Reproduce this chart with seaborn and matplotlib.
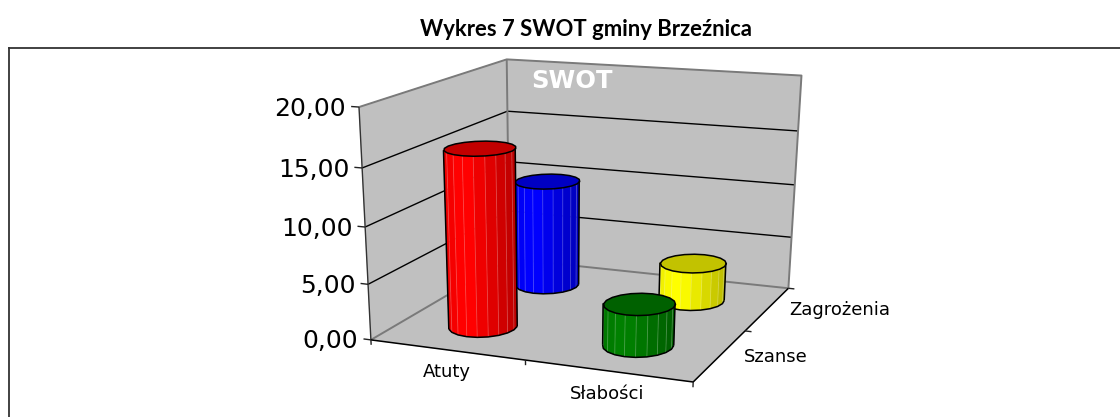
import numpy as np
import matplotlib
matplotlib.use("Agg")
import matplotlib.pyplot as plt
import seaborn as sns
from mpl_toolkits.mplot3d import proj3d
from mpl_toolkits.mplot3d.art3d import Line3DCollection, Poly3DCollection

# Chart values
categories = ["Atuty", "Słabości"]
series_names = ["Szanse", "Zagrożenia"]
szanse_values = [15.85, 3.7]
zagrozenia_values = [10.1, 3.6]
value_ticks = [0, 5, 10, 15, 20]
szanse_colors = ["#ff0000", "#008000"]
zagrozenia_colors = ["#0000ff", "#ffff00"]

W, H = 1120, 417
RX, RY = 0.205, 0.23
WALL = "#c0c0c0"
EDGE = "#7a7a7a"

sns.set_theme(style="white")
plt.rcParams["font.family"] = ["DejaVu Sans"]

fig = plt.figure(figsize=(W / 100, H / 100), dpi=100)
fig.patch.set_facecolor("white")

# Outer frame, only left and top are inside the picture
frame = fig.add_axes([8.5 / W, -0.1, 1.1, 1.1 - 48.5 / H])
frame.set_xticks([])
frame.set_yticks([])
sns.despine(ax=frame, top=False, left=False, right=True, bottom=True)
for side in ["left", "top"]:
    frame.spines[side].set_color("#333333")
    frame.spines[side].set_linewidth(1.3)

fig.text(586 / W, 1 - 30 / H, "Wykres 7 SWOT gminy Brzeźnica", ha="center", va="center",
         family="Lato", fontweight="bold", fontsize=15.9, color="black")

# Square axes wider than the figure height, 3D view is calibrated below
ax = fig.add_axes([0, (H - W) / 2 / H, 1, W / H], projection="3d")
ax.computed_zorder = False
ax.set_axis_off()
ax.patch.set_visible(False)
ax.set_xlim(0, 2)
ax.set_ylim(0, 2)
ax.set_zlim(0, 20)
for axis in (ax.xaxis, ax.yaxis, ax.zaxis):
    axis.set_visible(False)
ax.apply_aspect()

# Box corners on the picture, used to fit the chart's perspective
box_world = np.array([[0, 0, 0], [2, 0, 0], [2, 2, 0], [0, 2, 0],
                      [0, 0, 20], [0, 2, 20], [2, 2, 20]], float)
box_px = np.array([[372, 339], [693, 383], [789, 287], [508, 260],
                   [358, 107], [508, 59], [801, 76]], float)
display = np.column_stack([box_px[:, 0], H - box_px[:, 1]])
view = ax.transData.inverted().transform(display)

rows = []
for (x, y, z), (u, v) in zip(box_world, view):
    rows.append([x, y, z, 1, 0, 0, 0, 0, -u * x, -u * y, -u * z, -u])
    rows.append([0, 0, 0, 0, x, y, z, 1, -v * x, -v * y, -v * z, -v])
P = np.linalg.svd(np.array(rows))[2][-1].reshape(3, 4)
P = P / P[2, 3]
M = np.vstack([P[0], P[1], P[2] - np.array([0, 0, 0, 1.0]), P[2]])
ax.get_proj = lambda: M


def project(x, y, z):
    return proj3d.proj_transform(np.asarray(x, float), np.asarray(y, float), np.asarray(z, float), M)[:2]


def edge_line(xs, ys, zs, color, lw, order=2, alpha=None):
    points = np.column_stack([xs, ys, zs]).astype(float)
    ax.add_collection3d(Line3DCollection([points], colors=color, linewidths=lw, zorder=order, alpha=alpha),
                        autolim=False)


# Walls and floor
walls = [
    [(0, 2, 0), (2, 2, 0), (2, 2, 20), (0, 2, 20)],
    [(0, 0, 0), (0, 2, 0), (0, 2, 20), (0, 0, 20)],
    [(0, 0, 0), (2, 0, 0), (2, 2, 0), (0, 2, 0)],
]
ax.add_collection3d(Poly3DCollection(walls, facecolors=WALL, edgecolors=WALL, linewidths=0.5, zorder=0.5))

for v in value_ticks[1:-1]:
    edge_line([0, 0, 2], [0, 2, 2], [v, v, v], "black", 1.0)
edge_line([0, 0, 2], [0, 2, 2], [0, 0, 0], EDGE, 1.4)
edge_line([0, 0, 2, 2], [0, 2, 2, 2], [20, 20, 20, 0], EDGE, 1.4)
edge_line([0, 0], [2, 2], [0, 20], EDGE, 1.4)

# Axis lines and ticks
edge_line([0, 0], [0, 0], [0, 20], "#333333", 1.0)
edge_line([0, 2, 2], [0, 0, 2], [0, 0, 0], "black", 1.1)
for v in value_ticks:
    edge_line([-0.05, 0], [0, 0], [v, v], "#222222", 1.0)
    ax.text(-0.085, 0, v - 0.25, f"{v:.2f}".replace(".", ","), ha="right", va="center",
            fontsize=18, color="black", zorder=9)
for i in range(len(categories) + 1):
    edge_line([i, i], [0, 0], [0, -0.45], "#222222", 1.0)
for i in range(1, len(series_names) + 1):
    edge_line([2, 2.04], [i, i], [0, 0], "#222222", 1.0)
for i, name in enumerate(categories):
    ax.text(i + 0.5, 0, -2, name, ha="center", va="center", fontsize=13, color="black", zorder=9)
for i, name in enumerate(series_names):
    ax.text(2.14, i + 0.5, 0.1, name, ha="left", va="center", fontsize=13, color="black", zorder=9)

ax.text(0.18, 2, 18.1, "SWOT", ha="left", va="center", color="white",
        fontweight="bold", fontsize=17.5, zorder=9)


def draw_cylinder(cx, cy, value, color, order, sides=20):
    base = np.array(sns.color_palette([color])[0])
    t = np.linspace(0, 2 * np.pi, sides + 1)
    px = cx + RX * np.cos(t)
    py = cy + RY * np.sin(t)
    sx, _ = project(px, py, np.zeros_like(px))

    visible = np.diff(sx) > 0
    start = [i for i in range(sides) if visible[i] and not visible[i - 1]][0]
    front = [(start + k) % sides for k in range(sides) if visible[(start + k) % sides]]

    xmin, xmax = sx.min(), sx.max()
    quads, colors = [], []
    for i in front:
        j = i + 1
        quads.append([(px[i], py[i], 0), (px[j], py[j], 0), (px[j], py[j], value), (px[i], py[i], value)])
        u = ((sx[i] + sx[j]) / 2 - xmin) / (xmax - xmin)
        shade = 0.93 + u * 0.35 if u < 0.2 else 1.0 - max(u - 0.35, 0) * 0.42
        colors.append(np.clip(base * shade, 0, 1))
    ax.add_collection3d(Poly3DCollection(quads, facecolors=colors, edgecolors=colors, linewidths=0.3, zorder=order))

    # light ribs between the facets
    for i in front[1:]:
        edge_line([px[i], px[i]], [py[i], py[i]], [0, value], "white", 0.6, order + 0.1, alpha=0.25)

    # top face
    top = list(zip(px[:-1], py[:-1], np.full(sides, value)))
    ax.add_collection3d(Poly3DCollection([top], facecolors=[base * 0.76], edgecolors="black",
                                         linewidths=1.1, zorder=order + 0.2))

    # outline
    path = front + [(front[-1] + 1) % sides]
    edge_line(px[path], py[path], np.zeros(len(path)), "black", 1.1, order + 0.3)
    for k in (path[0], path[-1]):
        edge_line([px[k], px[k]], [py[k], py[k]], [0, value], "black", 1.1, order + 0.3)


# back row first, front row on top
for i, (value, color) in enumerate(zip(zagrozenia_values, zagrozenia_colors)):
    draw_cylinder(i + 0.5, 1.5, value, color, 3)
for i, (value, color) in enumerate(zip(szanse_values, szanse_colors)):
    draw_cylinder(i + 0.5, 0.5, value, color, 4)

fig.savefig("out.png", dpi=100)
